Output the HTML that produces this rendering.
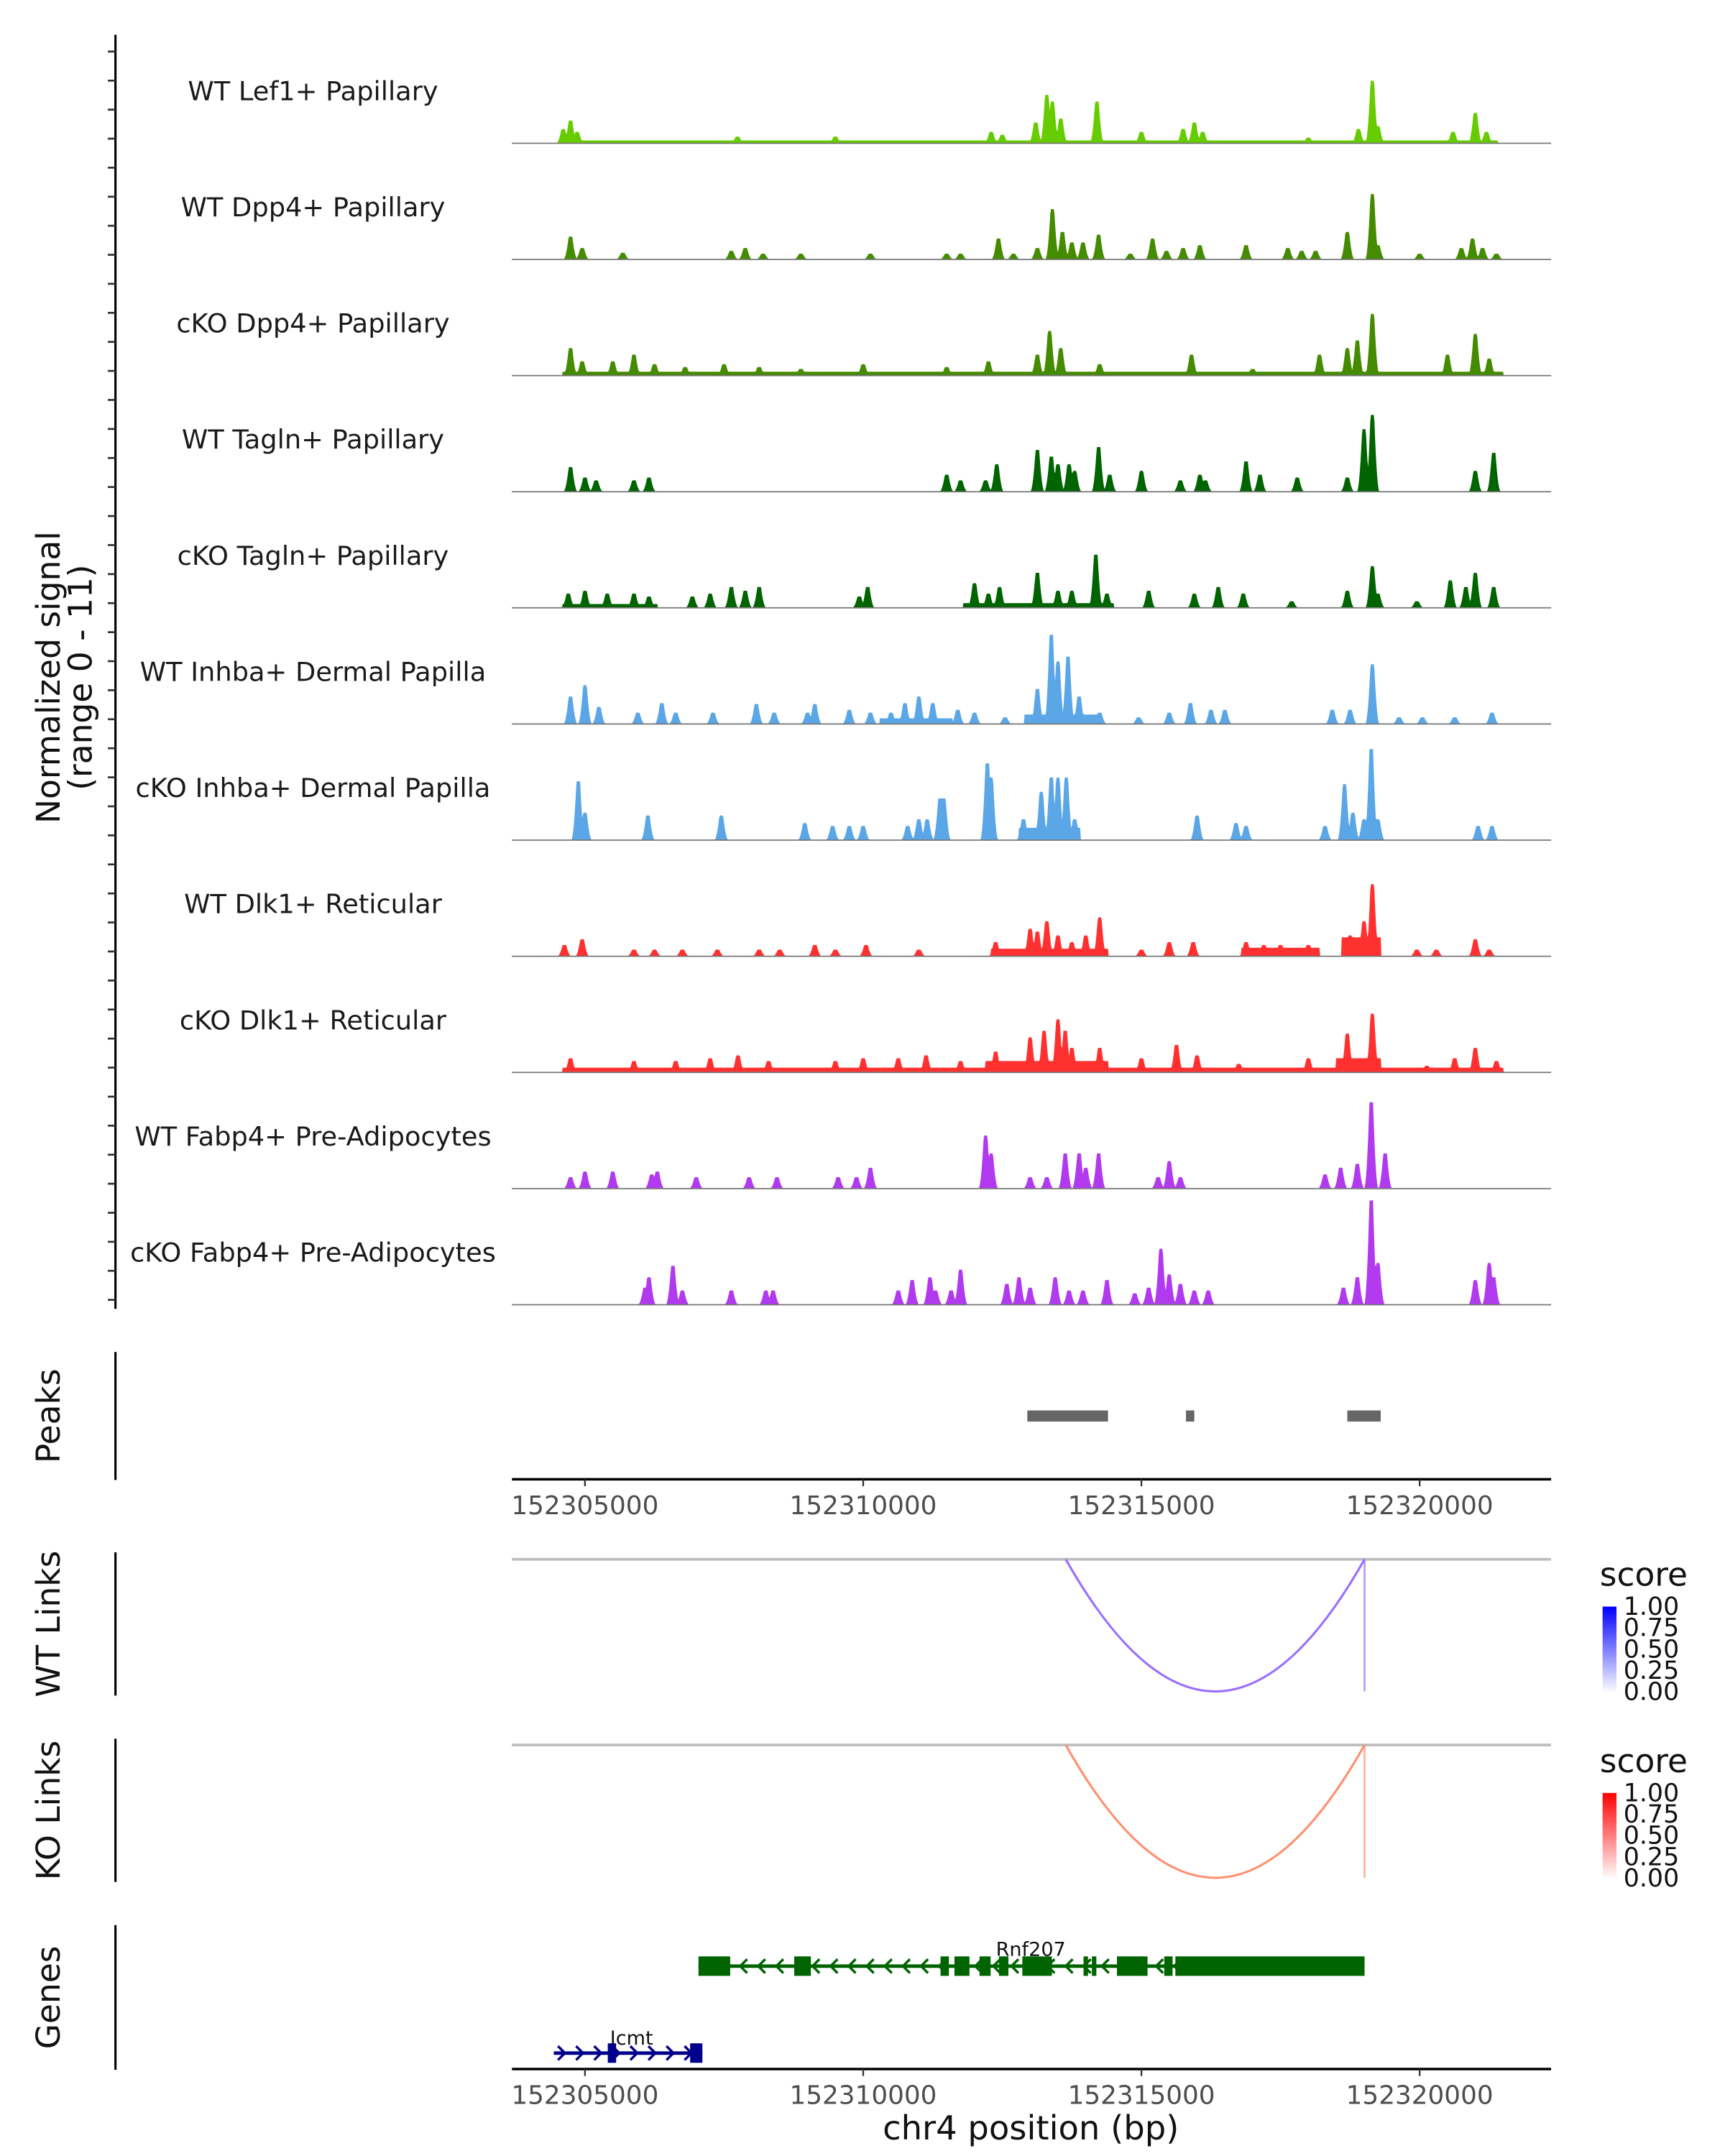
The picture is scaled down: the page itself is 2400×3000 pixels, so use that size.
<!DOCTYPE html>
<html><head><meta charset="utf-8"><style>
html,body{margin:0;padding:0;background:#fff;}
svg{display:block;font-family:"DejaVu Sans","Liberation Sans",sans-serif;}
</style></head><body>
<svg id="fig" width="2400" height="3000" viewBox="0 0 1240 1550" xmlns="http://www.w3.org/2000/svg">
<g id="g-main"></g>
</svg>
<script>
// ---- data (kb offset from 152300000, signal units 0-11) ----
const trackNames = ["WT Lef1+ Papillary","WT Dpp4+ Papillary","cKO Dpp4+ Papillary","WT Tagln+ Papillary","cKO Tagln+ Papillary","WT Inhba+ Dermal Papilla","cKO Inhba+ Dermal Papilla","WT Dlk1+ Reticular","cKO Dlk1+ Reticular","WT Fabp4+ Pre-Adipocytes","cKO Fabp4+ Pre-Adipocytes"];
const trackColors = ["#66cc00","#458b00","#458b00","#006400","#006400","#5aa6e6","#5aa6e6","#ff3030","#ff3030","#b23aee","#b23aee"];
const floors = [
 [[4.6,21.4,0.3]],
 [],
 [[4.6,21.5,0.4]],
 [],
 [[4.6,6.3,0.4],[11.8,14.5,0.5]],
 [[10.3,11.6,0.6],[12.9,14.2,1.0]],
 [[12.8,13.9,1.3]],
 [[16.8,18.2,0.9],[12.3,14.4,0.8],[18.6,19.3,2.0]],
 [[4.6,21.5,0.5],[12.2,14.4,1.2],[18.5,19.3,1.5]],
 [],
 []
];
const peakPos = [
 [4.61,4.74,4.86,7.74,9.5,12.3,12.5,13.1,13.3,13.4,13.55,14.2,15.0,15.75,15.95,16.1,18.0,18.9,19.15,19.25,20.6,21.0,21.2],
 [4.74,4.95,5.68,7.63,7.88,8.2,8.88,10.13,11.5,11.75,12.43,12.7,13.13,13.4,13.58,13.75,13.95,14.23,14.8,15.2,15.45,15.75,16.05,16.88,17.63,17.88,18.13,18.7,19.15,19.25,20.0,20.75,20.95,21.13,21.38],
 [4.74,4.95,5.5,5.88,6.25,6.8,7.5,8.13,8.88,10.0,11.5,12.25,13.13,13.35,13.55,14.25,15.9,17.0,18.2,18.7,18.88,19.15,20.5,21.0,21.25],
 [4.74,5.0,5.2,5.88,6.15,11.5,11.75,12.2,12.4,13.13,13.38,13.5,13.7,13.8,14.23,14.43,15.0,15.7,16.05,16.15,16.88,17.13,17.8,18.7,19.0,19.15,21.0,21.33],
 [4.7,5.0,5.4,5.88,6.15,6.93,7.25,7.63,7.88,8.13,9.93,10.08,12.0,12.25,12.45,13.13,13.5,13.75,14.18,14.38,15.13,15.95,16.38,16.83,17.7,18.7,19.15,19.25,19.95,20.55,20.83,21.0,21.33],
 [4.74,5.0,5.25,5.95,6.38,6.63,7.3,8.08,8.4,9.0,9.13,9.75,10.13,10.5,10.75,11.0,11.25,11.7,12.0,12.55,13.13,13.38,13.5,13.68,13.88,14.25,14.95,15.5,15.88,16.25,16.5,18.43,18.75,19.15,19.63,20.05,20.63,21.3],
 [4.88,5.0,6.13,7.45,8.95,9.45,9.75,10.0,10.8,11.0,11.15,11.38,11.45,12.23,12.3,12.88,13.2,13.38,13.5,13.65,13.8,16.0,16.7,16.88,18.3,18.65,18.8,19.0,19.13,19.25,21.05,21.3],
 [4.63,4.95,5.88,6.25,6.75,7.38,8.13,8.5,9.13,9.5,10.05,11.0,12.38,13.0,13.13,13.3,13.5,13.75,14.0,14.25,15.0,15.5,15.93,16.88,17.2,17.5,18.0,18.75,19.0,19.15,19.95,20.3,21.0,21.25],
 [4.74,5.88,6.63,7.25,7.75,8.3,9.5,10.0,10.63,11.13,11.75,12.38,13.0,13.25,13.5,13.63,13.75,14.25,15.0,15.63,16.0,16.75,18.0,18.7,19.15,20.13,20.63,21.0,21.38],
 [4.74,5.0,5.5,6.2,6.3,7.0,7.95,8.45,9.55,9.88,10.13,12.2,12.3,13.0,13.3,13.63,13.88,14.0,14.23,15.3,15.5,15.7,18.3,18.58,18.88,19.13,19.38],
 [6.08,6.15,6.58,6.75,7.63,8.25,8.38,10.63,10.88,11.2,11.3,11.58,11.75,12.58,12.8,13.0,13.45,13.7,13.95,14.38,14.88,15.13,15.35,15.5,15.7,15.95,16.2,18.63,18.88,19.13,19.25,21.0,21.25,21.33]
];
const peakHeight = [
 [1.5,2.4,1.2,0.7,0.7,1.2,0.9,2.2,5.1,4.4,2.6,4.4,1.2,1.5,2.2,1.2,0.6,1.5,6.6,1.8,1.2,3.2,1.2],
 [2.4,1.2,0.7,0.9,1.2,0.6,0.6,0.6,0.6,0.6,2.2,0.6,1.2,5.3,2.9,1.8,1.8,2.6,0.6,2.2,0.9,1.2,1.5,1.5,1.2,0.9,0.9,2.9,6.9,1.5,0.6,1.2,2.2,1.2,0.6],
 [2.9,1.5,1.5,2.2,1.2,0.9,1.2,0.9,0.7,1.2,0.9,1.5,2.2,4.7,2.9,1.2,2.2,0.7,2.2,2.9,3.7,6.5,2.2,4.4,1.8],
 [2.6,1.5,1.2,1.2,1.5,1.8,1.2,1.2,2.9,4.4,3.7,2.9,2.9,2.2,4.7,1.8,2.2,1.2,1.8,1.2,3.2,1.8,1.5,1.5,6.6,8.1,2.2,4.1],
 [1.5,1.8,1.5,1.5,1.2,1.2,1.5,2.2,1.8,2.2,1.2,2.2,2.6,1.5,2.2,3.7,1.8,1.8,5.6,1.5,1.8,1.5,2.2,1.5,0.7,1.8,4.4,1.5,0.7,2.9,2.2,3.7,2.2],
 [2.9,4.1,1.8,1.2,2.2,1.2,1.2,2.1,1.2,1.2,2.1,1.5,1.2,1.2,2.2,2.9,2.2,1.5,1.2,0.7,3.7,9.4,6.6,7.1,2.9,1.2,0.7,1.2,2.2,1.5,1.5,1.5,1.5,6.3,0.7,0.7,0.7,1.2],
 [6.2,2.9,2.6,2.6,1.8,1.5,1.5,1.5,1.5,2.2,2.2,4.4,4.4,8.1,6.6,2.2,5.1,6.6,6.6,6.6,2.2,2.6,1.8,1.5,1.5,5.9,2.9,2.2,9.6,2.2,1.5,1.5],
 [1.2,1.8,0.7,0.7,0.7,0.7,0.7,0.7,1.2,0.7,1.2,0.7,1.5,2.9,2.6,3.7,2.2,1.5,2.2,4.1,0.7,1.5,1.5,1.5,1.2,1.2,1.2,2.2,3.7,7.6,0.7,0.7,1.8,0.7],
 [1.5,1.2,1.2,1.5,1.8,1.2,1.2,1.5,1.5,1.8,1.2,2.2,3.7,4.4,5.6,4.4,2.6,2.6,1.5,2.9,1.8,0.9,1.5,4.1,6.2,0.7,1.5,2.6,1.2],
 [1.2,1.8,1.8,1.5,1.8,1.2,1.2,1.2,1.2,1.2,2.2,5.6,3.7,1.2,1.2,3.7,3.7,2.2,3.7,1.2,2.9,1.2,1.5,2.2,2.6,9.1,3.7],
 [1.8,2.9,4.1,1.5,1.5,1.5,1.5,1.5,2.6,2.9,1.5,1.5,3.7,2.2,2.9,1.8,2.9,1.5,1.5,2.6,1.2,1.8,5.9,3.2,2.2,1.5,1.5,1.8,2.9,11,4.4,2.6,4.4,2.9]
];
const xTicks = [5,10,15,20];
const xTickLabels = ["152305000","152310000","152315000","152320000"];
const peakRegions = [[12.95,14.4],[15.8,15.95],[18.7,19.3]];
const rnfExons = [[7.04,7.61],[8.76,9.06],[11.39,11.54],[11.64,11.91],[12.09,12.29],[12.44,12.61],[12.86,13.39],[13.96,14.04],[14.11,14.19],[14.56,15.11],[15.41,15.56],[15.61,19.01]];
const rnfSpan = [7.04,19.01];
const icmtExons = [[5.41,5.56],[6.89,7.11]];
const icmtSpan = [4.44,7.11];
const wtLinks = [[13.64,19.01,0.45]];
const koLinks = [[13.64,19.01,0.45]];
const legendLabels = ["1.00","0.75","0.50","0.25","0.00"];

// ---- scales ----
const X0=368, X1=1115;
const xs = kb => 420.5 + (kb-5)*40;
const TRACK_BASE0 = 103, TRACK_STEP = 83.5, YMAX = 11, TRACK_H = 75;
const ys = (v, base) => base - v/YMAX*TRACK_H;

const NS="http://www.w3.org/2000/svg";
const root=document.getElementById('g-main');
function mk(tag, attrs, parent){const e=document.createElementNS(NS,tag);for(const k in attrs)e.setAttribute(k,attrs[k]);(parent||root).appendChild(e);return e;}

// ---- y axis for signal ----
const ax=mk('line',{x1:83,y1:25,x2:83,y2:941,stroke:'#000','stroke-width':1.6});


for(let y=371-20.87*16; y<=941; y+=20.87){ if(y<30) continue;
  const t=mk('line',{x1:77.5,y1:y,x2:83,y2:y,stroke:'#333','stroke-width':1.4});
  
  
}
const yt=mk('text',{transform:'translate(43,487) rotate(-90)','text-anchor':'middle','font-size':23.5,fill:'#111'});


yt.textContent='Normalized signal';
const yt2=mk('text',{transform:'translate(66,487) rotate(-90)','text-anchor':'middle','font-size':23.5,fill:'#111'});


yt2.textContent='(range 0 - 11)';

// ---- tracks ----
function profile(i,kb){
  let v=0;
  for(const f of floors[i]) if(kb>=f[0]&&kb<=f[1]) v=Math.max(v,f[2]);
  const w=0.13;
  for(let j=0;j<peakPos[i].length;j++){
    const d=Math.abs(kb-peakPos[i][j]); if(d<w){ const t=1-d/w; v=Math.max(v,peakHeight[i][j]*Math.min(1,1.8*t*t)); }
  }
  return v;
}
trackNames.forEach((name,i)=>{
  const base=TRACK_BASE0+i*TRACK_STEP;
  const g=mk('g',{});
  
  
  const lab=mk('text',{x:225,y:base-31,'text-anchor':'middle','font-size':19,fill:'#1a1a1a'},g);
  
  
  lab.textContent=name;
  let d='M'+X0+','+base;
  for(let x=X0;x<=X1;x+=0.5){const kb=5+(x-420.5)/40; d+=' L'+x+','+ys(profile(i,kb),base).toFixed(2);}
  d+=' L'+X1+','+base+' Z';
  const p=mk('path',{d:d,fill:trackColors[i],stroke:'none'},g);
  
  
  const bl=mk('line',{x1:X0,y1:base,x2:X1,y2:base,stroke:'#777','stroke-width':0.9},g);
  
  
});

// ---- side panel axes and titles ----
function sideAxis(y1,y2,label,name){
  const l=mk('line',{x1:83,y1:y1,x2:83,y2:y2,stroke:'#000','stroke-width':1.6});
  
  
  const t=mk('text',{transform:'translate(43,'+((y1+y2)/2)+') rotate(-90)','text-anchor':'middle','font-size':23.5,fill:'#111'});
  
  
  t.textContent=label;
}
sideAxis(972,1064,'Peaks','peaks');
sideAxis(1116,1219,'WT Links','wt-links');
sideAxis(1250,1353,'KO Links','ko-links');
sideAxis(1384,1488,'Genes','genes');

// ---- peaks ----
peakRegions.forEach(r=>{
  const b=mk('rect',{x:xs(r[0]),y:1014,width:xs(r[1])-xs(r[0]),height:8,fill:'#666'});
  
  
});

// ---- x axes ----
function xAxis(y,name){
  const l=mk('line',{x1:X0,y1:y,x2:X1,y2:y,stroke:'#000','stroke-width':1.8});
  
  
  xTicks.forEach((k,j)=>{
    const t=mk('line',{x1:xs(k),y1:y,x2:xs(k),y2:y+5,stroke:'#333','stroke-width':1.2});
    
    
    const tl=mk('text',{x:xs(k),y:y+25,'text-anchor':'middle','font-size':18.5,fill:'#4d4d4d'});
    
    
    tl.textContent=xTickLabels[j];
  });
}
xAxis(1063.5,'peaks-x-axis');
xAxis(1487.5,'genes-x-axis');
const xt=mk('text',{x:741,y:1538,'text-anchor':'middle','font-size':24,fill:'#111'});


xt.textContent='chr4 position (bp)';

// ---- links ----
function linkPanel(links,top,bottom,color,legendTop,c1,name){
  const gl=mk('line',{x1:X0,y1:top,x2:X1,y2:top,stroke:'#bebebe','stroke-width':2});
  
  
  links.forEach(L=>{
    const a=xs(L[0]),b=xs(L[1]);
    const arc=mk('path',{d:`M${a},${top} Q${(a+b)/2},${2*bottom-top} ${b},${top}`,fill:'none',stroke:color,'stroke-width':1.6});
    
    
    const v=mk('line',{x1:b,y1:top,x2:b,y2:bottom,stroke:color,'stroke-width':1.3,opacity:0.75});
    
    
  });
  const st=mk('text',{x:1150,y:legendTop,'font-size':23.5,fill:'#111'});
  
  
  st.textContent='score';
  const gid='grad-'+name;
  const defs=mk('defs',{});
  const lg=mk('linearGradient',{id:gid,x1:0,y1:0,x2:0,y2:1},defs);
  mk('stop',{offset:0,'stop-color':c1},lg);
  mk('stop',{offset:1,'stop-color':'#ffffff'},lg);
  const bar=mk('rect',{x:1152,y:legendTop+15,width:10,height:62,fill:'url(#'+gid+')'});
  
  
  legendLabels.forEach((s,j)=>{
    const t=mk('text',{x:1167,y:legendTop+21+j*15.3,'font-size':18,fill:'#111'});
    
    
    t.textContent=s;
  });
}
linkPanel(wtLinks,1121,1216,'#9a70ff',1140,'#0000ff','wt-links');
linkPanel(koLinks,1254.5,1350,'#ff9070',1274,'#ff0000','ko-links');

// ---- genes ----
function gene(span,exons,y,color,dir,label,labY,labX,name){
  const g=mk('g',{});
  
  
  mk('line',{x1:xs(span[0]),y1:y,x2:xs(span[1]),y2:y,stroke:color,'stroke-width':2.5},g);
  for(let x=xs(span[0])+6;x<xs(span[1])-3;x+=13){
    const s=dir<0?`M${x+3},${y-5} L${x-2},${y} L${x+3},${y+5}`:`M${x-3},${y-5} L${x+2},${y} L${x-3},${y+5}`;
    mk('path',{d:s,fill:'none',stroke:color,'stroke-width':1.8},g);
  }
  exons.forEach(e=>{
    const r=mk('rect',{x:xs(e[0]),y:y-7,width:Math.max(2,xs(e[1])-xs(e[0])),height:14,fill:color},g);
    
    
  });
  const t=mk('text',{x:labX,y:labY,'text-anchor':'middle','font-size':14,fill:'#111'},g);
  
  
  t.textContent=label;
}
gene(rnfSpan,rnfExons,1413.5,'#006400',-1,'Rnf207',1406,741,'gene-rnf207');
gene(icmtSpan,icmtExons,1476,'#00008b',1,'Icmt',1470,454,'gene-icmt');
</script>
</body></html>
